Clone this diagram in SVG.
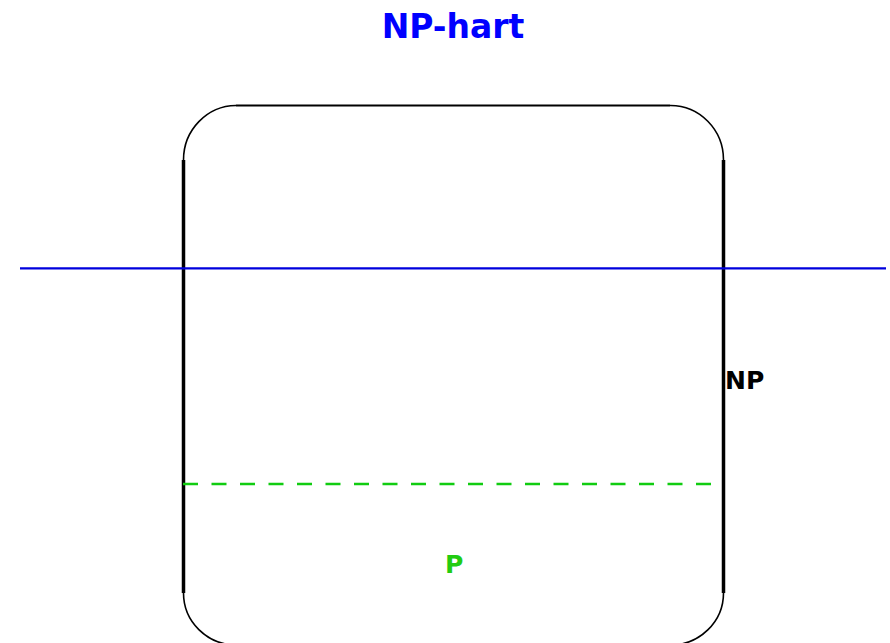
<svg xmlns="http://www.w3.org/2000/svg" width="890" height="643" viewBox="0 0 890 643">
<style>
.t{font-family:"DejaVu Sans","Liberation Sans",sans-serif;font-weight:bold}
.side{stroke:#000;stroke-width:3.5;fill:none}
.edge{stroke:#000;stroke-width:2;fill:none}
.arc{stroke:#000;stroke-width:1.6;fill:none}
</style>
<rect width="890" height="643" fill="#fff"/>
<g id="title"><text class="t" x="453" y="38" font-size="33" fill="#0000ff" text-anchor="middle">NP-hart</text></g>
<g id="np-box">
<path class="side" d="M183.5,160 V593"/>
<path class="side" d="M723.5,160 V593"/>
<path class="edge" d="M236,105.5 H670"/>
<path class="arc" d="M183.5,160 A53,54.5 0 0 1 236,105.5"/>
<path class="arc" d="M670,105.5 A53,54.5 0 0 1 723.5,160"/>
<path class="arc" d="M183.5,593 A53,52 0 0 0 236,645"/>
<path class="arc" d="M723.5,593 A53,52 0 0 1 670,645"/>
<text class="t" x="725" y="389" font-size="25" fill="#000">NP</text>
</g>
<g id="connectors">
<line x1="20" y1="268.3" x2="886" y2="268.3" stroke="#0000dd" stroke-width="2.3"/>
<line x1="183" y1="484" x2="711" y2="484" stroke="#11cc11" stroke-width="2.3" stroke-dasharray="15 13.5"/>
</g>
<g id="p-region"><text class="t" x="445" y="573" font-size="25" fill="#22cc11">P</text></g>
</svg>
